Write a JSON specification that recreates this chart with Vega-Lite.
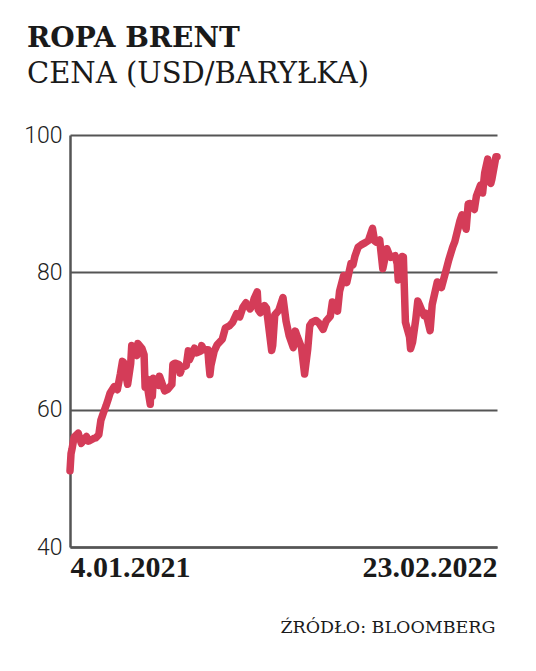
{
  "$schema": "https://vega.github.io/schema/vega-lite/v6.json",
  "width": 427,
  "height": 412,
  "autosize": {"type": "none"},
  "padding": {"left": 70, "top": 135, "right": 39, "bottom": 124},
  "background": "white",
  "title": {
    "text": "ROPA BRENT",
    "subtitle": "CENA (USD/BARYŁKA)",
    "anchor": "start",
    "frame": "group",
    "dx": -43,
    "offset": 35,
    "font": "DejaVu Serif",
    "fontSize": 28,
    "fontWeight": "bold",
    "color": "#1a1a1a",
    "subtitleFont": "DejaVu Serif",
    "subtitleFontSize": 29,
    "subtitleFontWeight": "normal",
    "subtitleColor": "#1a1a1a",
    "subtitlePadding": 7
  },
  "config": {"view": {"stroke": null}},
  "data": {"values": [
    {"d":"2021/01/04","p":51.09},{"d":"2021/01/05","p":53.60},{"d":"2021/01/06","p":54.30},{"d":"2021/01/08","p":55.99},
    {"d":"2021/01/12","p":56.58},{"d":"2021/01/13","p":56.06},{"d":"2021/01/15","p":55.10},{"d":"2021/01/20","p":56.08},
    {"d":"2021/01/22","p":55.41},{"d":"2021/01/27","p":55.81},{"d":"2021/01/29","p":55.88},{"d":"2021/02/01","p":56.35},
    {"d":"2021/02/03","p":58.46},{"d":"2021/02/05","p":59.34},{"d":"2021/02/08","p":60.56},{"d":"2021/02/10","p":61.47},
    {"d":"2021/02/12","p":62.43},{"d":"2021/02/16","p":63.35},{"d":"2021/02/19","p":62.91},{"d":"2021/02/22","p":65.24},
    {"d":"2021/02/24","p":67.04},{"d":"2021/02/25","p":66.88},{"d":"2021/02/26","p":66.13},{"d":"2021/03/01","p":63.69},
    {"d":"2021/03/04","p":66.74},{"d":"2021/03/05","p":69.36},{"d":"2021/03/08","p":68.24},{"d":"2021/03/10","p":67.90},
    {"d":"2021/03/11","p":69.63},{"d":"2021/03/15","p":68.88},{"d":"2021/03/17","p":68.00},{"d":"2021/03/18","p":63.28},
    {"d":"2021/03/19","p":64.53},{"d":"2021/03/23","p":60.79},{"d":"2021/03/24","p":64.41},{"d":"2021/03/25","p":61.95},
    {"d":"2021/03/26","p":64.57},{"d":"2021/03/31","p":63.54},{"d":"2021/04/01","p":64.86},{"d":"2021/04/06","p":62.74},
    {"d":"2021/04/09","p":62.95},{"d":"2021/04/13","p":63.67},{"d":"2021/04/14","p":66.58},{"d":"2021/04/16","p":66.77},
    {"d":"2021/04/20","p":66.57},{"d":"2021/04/21","p":65.32},{"d":"2021/04/23","p":66.11},{"d":"2021/04/27","p":66.42},
    {"d":"2021/04/29","p":68.56},{"d":"2021/04/30","p":67.25},{"d":"2021/05/05","p":68.96},{"d":"2021/05/07","p":68.28},
    {"d":"2021/05/11","p":68.55},{"d":"2021/05/12","p":69.32},{"d":"2021/05/14","p":68.71},{"d":"2021/05/18","p":68.71},
    {"d":"2021/05/19","p":66.66},{"d":"2021/05/20","p":65.11},{"d":"2021/05/21","p":66.44},{"d":"2021/05/24","p":68.46},
    {"d":"2021/05/27","p":69.46},{"d":"2021/06/01","p":70.25},{"d":"2021/06/04","p":71.89},{"d":"2021/06/08","p":72.22},
    {"d":"2021/06/11","p":72.69},{"d":"2021/06/15","p":73.99},{"d":"2021/06/18","p":73.51},{"d":"2021/06/21","p":74.90},
    {"d":"2021/06/24","p":75.56},{"d":"2021/06/28","p":74.68},{"d":"2021/06/30","p":75.13},{"d":"2021/07/02","p":76.17},
    {"d":"2021/07/05","p":77.16},{"d":"2021/07/06","p":74.53},{"d":"2021/07/08","p":74.12},{"d":"2021/07/12","p":75.16},
    {"d":"2021/07/14","p":74.76},{"d":"2021/07/15","p":73.47},{"d":"2021/07/19","p":68.62},{"d":"2021/07/20","p":69.35},
    {"d":"2021/07/22","p":73.79},{"d":"2021/07/26","p":74.50},{"d":"2021/07/30","p":76.33},{"d":"2021/08/02","p":72.89},
    {"d":"2021/08/05","p":70.76},{"d":"2021/08/09","p":69.04},{"d":"2021/08/11","p":71.44},{"d":"2021/08/13","p":70.59},
    {"d":"2021/08/17","p":69.03},{"d":"2021/08/19","p":66.45},{"d":"2021/08/20","p":65.18},{"d":"2021/08/23","p":68.75},
    {"d":"2021/08/25","p":72.25},{"d":"2021/08/27","p":72.70},{"d":"2021/08/31","p":72.99},{"d":"2021/09/03","p":72.61},
    {"d":"2021/09/07","p":71.69},{"d":"2021/09/10","p":72.92},{"d":"2021/09/14","p":73.60},{"d":"2021/09/16","p":75.67},
    {"d":"2021/09/21","p":74.36},{"d":"2021/09/23","p":77.25},{"d":"2021/09/27","p":79.53},{"d":"2021/09/28","p":79.09},
    {"d":"2021/09/30","p":78.52},{"d":"2021/10/04","p":81.26},{"d":"2021/10/06","p":81.08},{"d":"2021/10/08","p":82.39},
    {"d":"2021/10/11","p":83.65},{"d":"2021/10/14","p":84.00},{"d":"2021/10/18","p":84.33},{"d":"2021/10/21","p":84.61},
    {"d":"2021/10/25","p":86.40},{"d":"2021/10/27","p":84.58},{"d":"2021/10/29","p":84.38},{"d":"2021/11/01","p":84.71},
    {"d":"2021/11/04","p":80.54},{"d":"2021/11/08","p":83.43},{"d":"2021/11/10","p":82.64},{"d":"2021/11/12","p":82.17},
    {"d":"2021/11/16","p":82.43},{"d":"2021/11/18","p":81.24},{"d":"2021/11/19","p":78.89},{"d":"2021/11/23","p":82.31},
    {"d":"2021/11/24","p":82.25},{"d":"2021/11/26","p":72.72},{"d":"2021/11/30","p":70.57},{"d":"2021/12/01","p":68.87},
    {"d":"2021/12/03","p":69.88},{"d":"2021/12/06","p":73.08},{"d":"2021/12/08","p":75.82},{"d":"2021/12/10","p":75.15},
    {"d":"2021/12/14","p":73.70},{"d":"2021/12/16","p":74.02},{"d":"2021/12/20","p":71.52},{"d":"2021/12/22","p":75.29},
    {"d":"2021/12/27","p":78.60},{"d":"2021/12/31","p":77.78},{"d":"2022/01/04","p":80.00},{"d":"2022/01/07","p":81.75},
    {"d":"2022/01/11","p":83.72},{"d":"2022/01/13","p":84.47},{"d":"2022/01/18","p":87.51},{"d":"2022/01/20","p":88.38},
    {"d":"2022/01/24","p":86.27},{"d":"2022/01/26","p":89.96},{"d":"2022/01/28","p":90.03},{"d":"2022/02/01","p":89.16},
    {"d":"2022/02/03","p":91.11},{"d":"2022/02/07","p":92.69},{"d":"2022/02/09","p":91.55},{"d":"2022/02/11","p":94.44},
    {"d":"2022/02/14","p":96.48},{"d":"2022/02/15","p":93.28},{"d":"2022/02/17","p":92.97},{"d":"2022/02/18","p":93.54},
    {"d":"2022/02/22","p":96.84},{"d":"2022/02/23","p":96.84}
  ]},
  "mark": {"type": "line", "color": "#d43c58", "strokeWidth": 7.5, "strokeCap": "round", "strokeJoin": "round", "clip": false},
  "encoding": {
    "x": {
      "field": "d", "type": "temporal",
      "scale": {"domain": [{"year": 2021, "month": 1, "date": 4}, {"year": 2022, "month": 2, "date": 23}]},
      "axis": {
        "values": [{"year": 2021, "month": 1, "date": 4}, {"year": 2022, "month": 2, "date": 23}],
        "format": "%-d.%m.%Y",
        "labelFlush": true,
        "labelFont": "Liberation Sans Narrow",
        "labelFontSize": 30,
        "labelFontWeight": "bold",
        "labelColor": "#1a1a1a",
        "labelPadding": 5,
        "ticks": false,
        "grid": false,
        "domainColor": "#555555",
        "domainWidth": 2.5,
        "title": "ŹRÓDŁO: BLOOMBERG",
        "titleFont": "DejaVu Serif",
        "titleFontSize": 17.5,
        "titleFontWeight": "normal",
        "titleColor": "#1a1a1a",
        "titleAnchor": "end",
        "titleAlign": "right",
        "titleX": 425,
        "titlePadding": 36
      }
    },
    "y": {
      "field": "p", "type": "quantitative",
      "scale": {"domain": [40, 100], "nice": false, "zero": false},
      "axis": {
        "values": [40, 60, 80, 100],
        "labelFont": "Roboto",
        "labelFontSize": 23,
        "labelFontWeight": 300,
        "labelColor": "#222222",
        "labelPadding": 8,
        "ticks": false,
        "grid": true,
        "gridColor": "#555555",
        "gridWidth": 2,
        "gridOpacity": 1,
        "domainColor": "#555555",
        "domainWidth": 2.5,
        "title": null
      }
    }
  }
}
